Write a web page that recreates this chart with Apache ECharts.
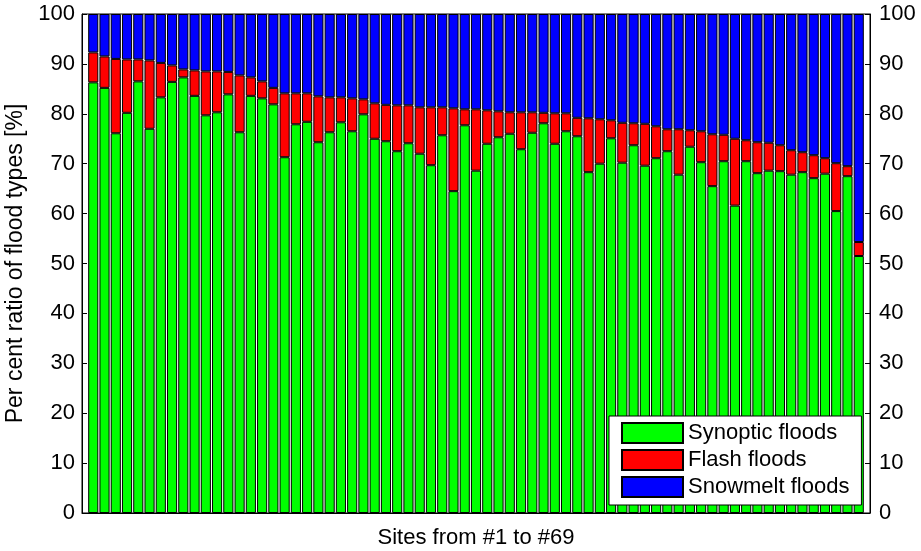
<!DOCTYPE html>
<html>
<head>
<meta charset="utf-8">
<script src="https://cdn.jsdelivr.net/npm/echarts@6/dist/echarts.min.js"></script>
<style>
html,body{margin:0;padding:0;background:#fff;}
#chart{width:921px;height:551px;}
</style>
</head>
<body>
<div id="chart"></div>
<script>
const sites = [1,2,3,4,5,6,7,8,9,10,11,12,13,14,15,16,17,18,19,20,21,22,23,24,25,26,27,28,29,30,31,32,33,34,35,36,37,38,39,40,41,42,43,44,45,46,47,48,49,50,51,52,53,54,55,56,57,58,59,60,61,62,63,64,65,66,67,68,69];
const synoptic = [86.3,85.2,76.1,80.2,86.5,77.0,83.3,86.4,87.3,83.6,79.7,80.3,83.9,76.3,83.6,83.1,81.9,71.3,77.9,78.4,74.3,76.3,78.3,76.5,79.9,75.0,74.5,72.5,74.1,72.0,69.7,75.7,64.5,77.7,68.6,74.0,75.3,76.0,72.9,76.2,78.1,74.0,76.5,75.5,68.3,70.0,75.1,70.2,73.7,69.6,71.1,72.5,67.8,73.4,70.3,65.5,70.5,61.6,70.5,68.1,68.6,68.5,67.8,68.3,67.1,68.0,60.5,67.5,51.5];
const flash = [6.0,6.3,14.9,10.7,4.4,13.7,6.9,3.3,1.6,5.1,8.8,8.2,4.5,11.4,3.7,3.4,3.3,12.8,6.2,5.7,9.2,7.0,5.0,6.6,3.0,7.1,7.3,9.2,7.6,9.3,11.6,5.6,16.6,3.2,12.3,6.7,5.2,4.3,7.4,4.1,2.1,6.1,3.6,3.7,10.8,8.9,3.6,8.0,4.4,8.4,6.4,4.4,9.1,3.3,6.2,10.4,5.3,13.4,4.2,6.2,5.6,5.2,4.9,4.0,4.6,3.1,9.6,2.0,2.8];
const snowmelt = [7.7,8.5,9.0,9.1,9.1,9.3,9.8,10.3,11.1,11.3,11.5,11.5,11.6,12.3,12.7,13.5,14.8,15.9,15.9,15.9,16.5,16.7,16.7,16.9,17.1,17.9,18.2,18.3,18.3,18.7,18.7,18.7,18.9,19.1,19.1,19.3,19.5,19.7,19.7,19.7,19.8,19.9,19.9,20.8,20.9,21.1,21.3,21.8,21.9,22.0,22.5,23.1,23.1,23.3,23.5,24.1,24.2,25.0,25.3,25.7,25.8,26.3,27.3,27.7,28.3,28.9,29.9,30.5,45.7];
const seriesNames = ['Synoptic floods','Flash floods','Snowmelt floods'];
const yTicks = [0,10,20,30,40,50,60,70,80,90,100];

const FONT = "'Liberation Sans', Arial, Helvetica, sans-serif";
const colors = ['#00ff00','#ff0000','#0000ff'];
const values = [synoptic, flash, snowmelt];

// frame grid spans x-limits [0, 70]; bar grid is inset by half a unit on each side
const G = {left:82, right:51, top:14, bottom:38};
const W = 921 - G.left - G.right;
const half = W / 70 / 2;

const chart = echarts.init(document.getElementById('chart'), null, {renderer:'canvas'});

function yAxis(pos, margin, grid, visible){
  return {
    type:'value', gridIndex:grid, position:pos, min:yTicks[0], max:yTicks[yTicks.length-1], interval:10,
    show:visible,
    axisLine:{show:true, lineStyle:{color:'#000', width:1}},
    axisTick:{show:true, inside:true, length:5, lineStyle:{color:'#000'}},
    axisLabel:{show:true, color:'#000', fontSize:22, fontFamily:FONT, margin:margin},
    splitLine:{show:false}
  };
}

const yl = yAxis('left', 7, 0, true);
yl.name = 'Per cent ratio of flood types [%]';
yl.nameLocation = 'middle';
yl.nameGap = 52;
yl.nameTextStyle = {color:'#000', fontSize:23, fontFamily:FONT};

chart.setOption({
  animation:false,
  backgroundColor:'#fff',
  grid:[
    {left:G.left, right:G.right, top:G.top, bottom:G.bottom, show:true, borderColor:'#000', borderWidth:1, backgroundColor:'#fff', z:0, containLabel:false, outerBoundsMode:'none'},
    {left:G.left+half, right:G.right+half, top:G.top, bottom:G.bottom, show:false, containLabel:false, outerBoundsMode:'none'}
  ],
  legend:{
    orient:'vertical', left:609, top:416,
    data:seriesNames,
    icon:'rect', itemWidth:61, itemHeight:20, itemGap:5,
    backgroundColor:'#fff', borderColor:'#000', borderWidth:1,
    padding:[6,12,7,12],
    textStyle:{color:'#000', fontSize:22, fontFamily:FONT}
  },
  xAxis:[
    {
      type:'value', gridIndex:0, min:0, max:70,
      name:'Sites from #1 to #69', nameLocation:'middle', nameGap:14,
      nameTextStyle:{color:'#000', fontSize:22, fontFamily:FONT, verticalAlign:'top'},
      axisLine:{show:true, lineStyle:{color:'#000'}},
      axisTick:{show:false}, axisLabel:{show:false}, splitLine:{show:false}
    },
    {
      type:'category', gridIndex:1, data:sites, show:false, boundaryGap:true
    }
  ],
  yAxis:[yl, yAxis('right', 9, 0, true), yAxis('left', 7, 1, false)],
  series: seriesNames.map((n,k)=>({
    name:n, type:'bar', stack:'total', barWidth:'90%',
    xAxisIndex:1, yAxisIndex:2,
    itemStyle:{color:colors[k], borderColor:'#000', borderWidth:1},
    emphasis:{disabled:true},
    data: values[k]
  }))
});
</script>
</body>
</html>
